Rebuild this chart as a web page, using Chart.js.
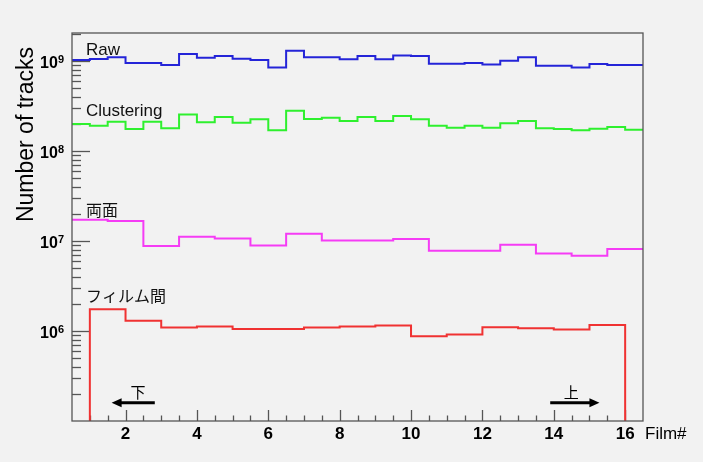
<!DOCTYPE html>
<html>
<head>
<meta charset="utf-8">
<script src="https://cdn.jsdelivr.net/npm/chart.js@4.4.0/dist/chart.umd.min.js"></script>
<style>
html,body{margin:0;padding:0;background:#f2f2f2;overflow:hidden;}
canvas{display:block;}
</style>
</head>
<body>
<canvas id="c" width="703" height="462"></canvas>
<script>
// ---------------- data ----------------
// Raw and Clustering: half-film bins from 0.5 to 16.5
const rawCounts = [
  1.03e9, 1.057e9, 1.11e9, 0.954e9, 0.954e9, 0.906e9, 1.20e9, 1.09e9,
  1.14e9, 1.065e9, 1.03e9, 0.854e9, 1.31e9, 1.11e9, 1.11e9, 1.05e9,
  1.14e9, 1.05e9, 1.16e9, 1.14e9, 0.937e9, 0.937e9, 0.954e9, 0.922e9,
  1.01e9, 1.11e9, 0.89e9, 0.89e9, 0.854e9, 0.93e9, 0.906e9, 0.906e9
];
const clusteringCounts = [
  2.0e8, 1.92e8, 2.13e8, 1.76e8, 2.13e8, 1.80e8, 2.55e8, 2.10e8,
  2.40e8, 2.07e8, 2.26e8, 1.71e8, 2.82e8, 2.28e8, 2.36e8, 2.17e8,
  2.40e8, 2.17e8, 2.46e8, 2.26e8, 1.92e8, 1.82e8, 1.92e8, 1.82e8,
  2.04e8, 2.17e8, 1.80e8, 1.76e8, 1.71e8, 1.78e8, 1.86e8, 1.73e8
];
// 両面: one bin per film (films 1..16)
const bothSidesCounts = [
  1.73e7, 1.67e7, 0.88e7, 1.117e7, 1.07e7, 0.896e7, 1.206e7, 1.018e7,
  1.018e7, 1.053e7, 0.78e7, 0.78e7, 0.91e7, 0.73e7, 0.686e7, 0.815e7
];
// フィルム間: one bin between film n and film n+1 (1..16)
const interFilmCounts = [
  1.75e6, 1.30e6, 1.095e6, 1.124e6, 1.057e6, 1.057e6, 1.095e6, 1.124e6,
  1.153e6, 0.877e6, 0.915e6, 1.104e6, 1.076e6, 1.04e6, 1.17e6
];
const seriesNames = ['Raw', 'Clustering', '両面', 'フィルム間'];
const xTickValues = [2, 4, 6, 8, 10, 12, 14, 16];
const yDecades = [6, 7, 8, 9];
const xAxisTitle = 'Film#';
const yAxisTitle = 'Number of tracks';

// ---------------- chart setup ----------------
const X_MIN = 0.5, X_MAX = 16.5, Y_MIN = 1e5, Y_MAX = 2.06e9;

function stepPoints(values, firstEdge, width, base) {
  const pts = [];
  if (base !== undefined) pts.push({x: firstEdge, y: base});
  values.forEach((v, i) => {
    pts.push({x: firstEdge + i * width, y: v});
    pts.push({x: firstEdge + (i + 1) * width, y: v});
  });
  if (base !== undefined) pts.push({x: firstEdge + values.length * width, y: base});
  return pts;
}

const FONT = '"Liberation Sans", Arial, Helvetica, sans-serif';
const CJK = '"Noto Sans CJK JP", "Noto Sans CJK SC", sans-serif';

const seriesStyle = [
  {color: '#2424d8'},
  {color: '#2ef02e'},
  {color: '#f53cf5'},
  {color: '#f03232'}
];

const datasets = [
  stepPoints(rawCounts, 0.5, 0.5),
  stepPoints(clusteringCounts, 0.5, 0.5),
  stepPoints(bothSidesCounts, 0.5, 1),
  stepPoints(interFilmCounts, 1, 1, Y_MIN)
].map((d, i) => ({
  label: seriesNames[i],
  data: d,
  borderColor: seriesStyle[i].color,
  borderWidth: 2,
  pointRadius: 0,
  tension: 0,
  fill: false
}));

// annotation anchors in data coordinates
const seriesLabelPos = [
  {x: 0.89, y: 1.17e9},
  {x: 0.89, y: 2.46e8},
  {x: 0.89, y: 1.92e7},
  {x: 0.89, y: 2.1e6}
];
const arrows = [
  {text: '下', from: 2.82, to: 1.61, textX: 2.35, y: 1.6e5},
  {text: '上', from: 13.9, to: 15.28, textX: 14.49, y: 1.6e5}
];

const decor = {
  id: 'decor',
  beforeDraw(chart) {
    const c = chart.ctx;
    c.save();
    c.fillStyle = '#f2f2f2';
    c.fillRect(0, 0, chart.width, chart.height);
    c.restore();
  },
  beforeDatasetsDraw(chart) {
    const c = chart.ctx, a = chart.chartArea;
    const xs = chart.scales.x, ys = chart.scales.y;
    c.save();
    c.strokeStyle = '#555';
    c.lineWidth = 1.3;
    // y ticks (log): major at decades, minor at 2..9
    for (let e = 5; e <= 9; e++) {
      for (let m = 1; m <= 9; m++) {
        const v = m * Math.pow(10, e);
        if (v <= Y_MIN || v >= Y_MAX) continue;
        const y = Math.round(ys.getPixelForValue(v)) + 0.5;
        const len = m === 1 ? 18 : 9;
        c.beginPath(); c.moveTo(a.left, y); c.lineTo(a.left + len, y); c.stroke();
      }
    }
    // x ticks: major every 2, minor every 0.5
    for (let v = 1; v <= 16; v += 0.5) {
      const x = Math.round(xs.getPixelForValue(v)) + 0.5;
      const len = (v % 2 === 0) ? 11 : 5.5;
      c.beginPath(); c.moveTo(x, a.bottom); c.lineTo(x, a.bottom - len); c.stroke();
    }
    c.restore();
  },
  afterDraw(chart) {
    const c = chart.ctx, a = chart.chartArea;
    const xs = chart.scales.x, ys = chart.scales.y;
    c.save();
    // frame
    c.strokeStyle = '#555';
    c.lineWidth = 1.3;
    c.strokeRect(a.left, a.top, a.right - a.left, a.bottom - a.top);

    // y labels 10^n
    c.fillStyle = '#000';
    yDecades.forEach(e => {
      const y = ys.getPixelForValue(Math.pow(10, e));
      c.font = 'bold 11px ' + FONT;
      c.textAlign = 'right';
      c.textBaseline = 'alphabetic';
      const sup = String(e);
      const sw = c.measureText(sup).width;
      const right = a.left - 8;
      c.fillText(sup, right, y + 1.5);
      c.font = 'bold 16px ' + FONT;
      c.fillText('10', right - sw, y + 7);
    });

    // axis titles
    c.font = '23px ' + FONT;
    c.textAlign = 'right';
    c.textBaseline = 'alphabetic';
    c.save();
    c.translate(33, a.top + 14);
    c.rotate(-Math.PI / 2);
    c.fillText(yAxisTitle, 0, 0);
    c.restore();

    c.font = '17px ' + FONT;
    c.textAlign = 'left';
    c.fillText(xAxisTitle, a.right + 2, a.bottom + 18);

    // series labels
    seriesNames.forEach((name, i) => {
      const p = seriesLabelPos[i];
      const isCJK = /[^\x00-\x7F]/.test(name);
      c.font = isCJK ? '16px ' + CJK : '17px ' + FONT;
      c.fillStyle = '#111';
      c.textAlign = 'left';
      c.fillText(name, xs.getPixelForValue(p.x), ys.getPixelForValue(p.y));
    });

    // arrows
    arrows.forEach(ar => {
      const y = ys.getPixelForValue(ar.y);
      const x1 = xs.getPixelForValue(ar.from), x2 = xs.getPixelForValue(ar.to);
      const dir = Math.sign(x2 - x1);
      c.strokeStyle = '#000';
      c.fillStyle = '#000';
      c.lineWidth = 3;
      c.beginPath(); c.moveTo(x1, y); c.lineTo(x2 - dir * 6, y); c.stroke();
      c.beginPath();
      c.moveTo(x2, y);
      c.lineTo(x2 - dir * 10, y - 4.5);
      c.lineTo(x2 - dir * 10, y + 4.5);
      c.closePath(); c.fill();
      c.font = '15px ' + CJK;
      c.textAlign = 'center';
      c.fillText(ar.text, xs.getPixelForValue(ar.textX), y - 5);
    });
    c.restore();
  }
};

new Chart(document.getElementById('c'), {
  type: 'line',
  data: {datasets},
  options: {
    responsive: false,
    animation: false,
    devicePixelRatio: 1,
    layout: {padding: {top: 33, right: 60, left: 0, bottom: 0}},
    plugins: {legend: {display: false}, tooltip: {enabled: false}},
    scales: {
      x: {
        type: 'linear', min: X_MIN, max: X_MAX,
        afterBuildTicks: s => { s.ticks = xTickValues.map(v => ({value: v})); },
        afterFit: s => { s.height = 41; },
        grid: {display: false, drawTicks: false},
        border: {display: false},
        ticks: {
          autoSkip: false, maxRotation: 0, padding: 3, color: '#000',
          font: {family: FONT, weight: 'bold', size: 17}
        }
      },
      y: {
        type: 'logarithmic', min: Y_MIN, max: Y_MAX,
        afterFit: s => { s.width = 72; },
        grid: {display: false, drawTicks: false},
        border: {display: false},
        ticks: {display: false}
      }
    }
  },
  plugins: [decor]
});
</script>
</body>
</html>
